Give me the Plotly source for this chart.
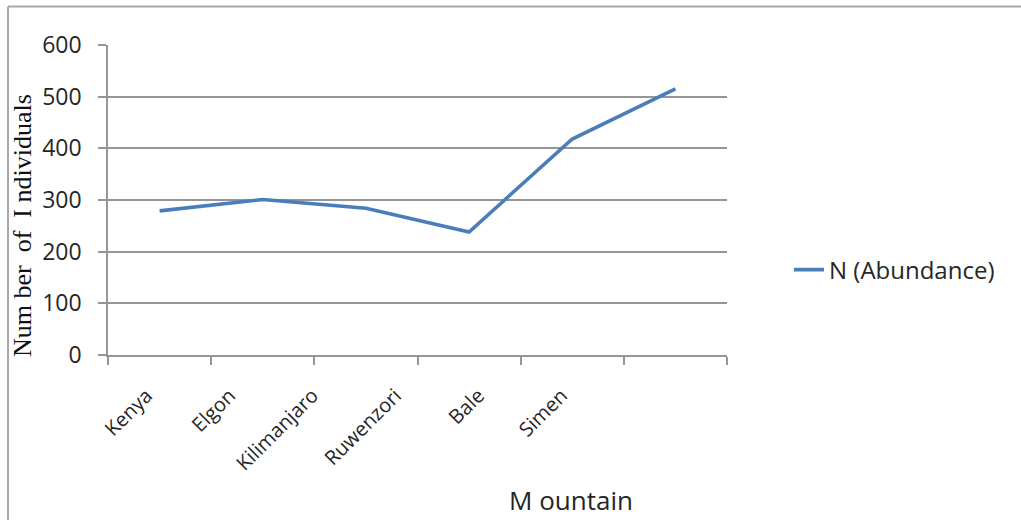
import plotly.graph_objects as go

mountains = ["Kenya", "Elgon", "Kilimanjaro", "Ruwenzori", "Bale", "Simen"]
abundance = [279, 301, 284, 238, 418, 515]
y_ticks = [0, 100, 200, 300, 400, 500, 600]

L, R, T, B = 95, 294, 45, 165
W, H = 1021, 520
pw, ph = W - L - R, H - T - B


def px_x(x):
    return (x - L) / pw


def px_y(y):
    return (H - B - y) / ph


grid = "#959595"
text_col = "#262626"
fig = go.Figure()
# category labels sit on a narrower companion axis pair
fig.add_trace(go.Scatter(
    x=mountains, y=abundance, mode="none", xaxis="x2", yaxis="y2",
    showlegend=False, hoverinfo="skip",
))
fig.add_trace(go.Scatter(
    x=mountains, y=abundance, mode="lines", name="N (Abundance)",
    line=dict(color="#4a7ebb", width=3.6),
))

fig.update_layout(
    width=W, height=H,
    margin=dict(l=L, r=R, t=T, b=B),
    paper_bgcolor="white", plot_bgcolor="rgba(0,0,0,0)",
    font=dict(family="Open Sans", color=text_col),
    showlegend=True,
    legend=dict(x=px_x(789), y=px_y(270), xanchor="left", yanchor="middle",
                font=dict(size=24, family="Open Sans", color=text_col),
                bgcolor="rgba(0,0,0,0)"),
    xaxis=dict(
        type="category", range=[-0.5, 5.5], tickson="boundaries",
        domain=[px_x(108), 1], anchor="y",
        ticks="outside", ticklen=8, tickcolor=grid, tickwidth=1.5,
        showline=True, linecolor=grid, linewidth=1.5,
        showgrid=False, showticklabels=False,
    ),
    xaxis2=dict(
        type="category", range=[-0.5, 5.5], anchor="y2",
        domain=[px_x(105), px_x(603)],
        showline=False, ticks="", showgrid=False, tickangle=-45,
        ticklabelstandoff=24,
        tickfont=dict(size=20, family="Open Sans", color=text_col),
    ),
    yaxis=dict(
        range=[0, 600], tickvals=y_ticks, anchor="x",
        ticks="outside", ticklen=8, tickcolor=grid, tickwidth=1.5,
        showline=True, linecolor=grid, linewidth=1.5,
        showgrid=True, gridcolor=grid, gridwidth=1.6,
        zeroline=False, ticklabelstandoff=12,
        tickfont=dict(size=23, family="Open Sans", color=text_col),
    ),
    yaxis2=dict(
        range=[0, 600], anchor="x2", overlaying="y",
        showline=False, showgrid=False, zeroline=False,
        showticklabels=False, ticks="",
    ),
)

# axis titles
fig.add_annotation(text="M ountain", x=px_x(571), y=px_y(500), xref="paper", yref="paper",
                   showarrow=False, xanchor="center", yanchor="middle",
                   font=dict(size=26, family="Open Sans", color=text_col))
fig.add_annotation(text="Num ber  of  I ndividuals", x=px_x(22), y=px_y(226), xref="paper",
                   yref="paper", showarrow=False, textangle=-90,
                   xanchor="center", yanchor="middle",
                   font=dict(size=26, family="Liberation Serif", color="#111111"))

# outer frame (top and left edges)
fig.add_shape(type="line", xref="paper", yref="paper", x0=px_x(8), x1=px_x(1030),
              y0=px_y(6.5), y1=px_y(6.5), line=dict(color="#a8a8a8", width=2))
fig.add_shape(type="line", xref="paper", yref="paper", x0=px_x(8), x1=px_x(8),
              y0=px_y(6.5), y1=px_y(530), line=dict(color="#a8a8a8", width=2))

fig.write_html("out.html")
